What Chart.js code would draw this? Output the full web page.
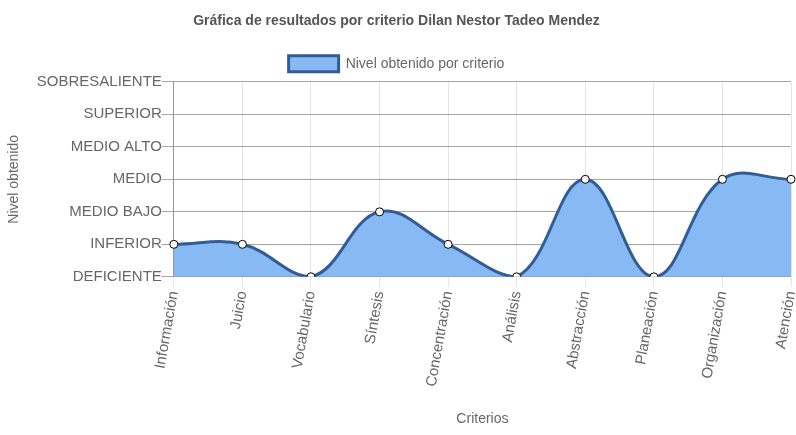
<!DOCTYPE html>
<html>
<head>
<meta charset="utf-8">
<script src="https://cdn.jsdelivr.net/npm/chart.js@4"></script>
<style>
html,body{margin:0;padding:0;background:#fff;}
#wrap{width:796px;height:435px;position:relative;}
</style>
</head>
<body>
<div id="wrap"><canvas id="c" width="796" height="435"></canvas></div>
<script>
const categories = ["Información","Juicio","Vocabulario","Síntesis","Concentración","Análisis","Abstracción","Planeación","Organización","Atención"];
const levelValues = [1,1,0,2,1,0,3,0,3,3];
const levelLabels = ["DEFICIENTE","INFERIOR","MEDIO BAJO","MEDIO","MEDIO ALTO","SUPERIOR","SOBRESALIENTE"];
const seriesName = "Nivel obtenido por criterio";
const chartTitle = "Gráfica de resultados por criterio Dilan Nestor Tadeo Mendez";

Chart.defaults.font.family = "'Liberation Sans', Arial, sans-serif";
Chart.defaults.color = "#666";

new Chart(document.getElementById('c'), {
  type: 'line',
  data: {
    labels: categories,
    datasets: [{
      label: seriesName,
      data: levelValues,
      fill: true,
      backgroundColor: '#87b9f5',
      borderColor: '#325d94',
      borderWidth: 3,
      tension: 0.4,
      pointRadius: 4,
      pointBackgroundColor: '#fff',
      pointBorderColor: '#000',
      pointBorderWidth: 1
    }]
  },
  options: {
    responsive: false,
    animation: false,
    layout: { padding: { left: 2, right: 5, top: 0, bottom: 3 } },
    plugins: {
      title: { display: true, text: chartTitle, font: { size: 14, weight: 'bold' }, color: '#555', padding: { top: 13, bottom: 14 } },
      legend: { labels: { boxWidth: 50, boxHeight: 16, padding: 12, font: { size: 14 }, color: '#666' } },
      tooltip: { enabled: false }
    },
    scales: {
      x: {
        title: { display: true, text: 'Criterios', font: { size: 14 }, color: '#666', padding: { top: 20 } },
        grid: { color: 'rgba(0,0,0,0.1)', tickLength: 10 },
        ticks: { font: { size: 15 }, minRotation: 80, maxRotation: 80, color: '#666' },
        afterFit: (scale) => { scale.paddingRight = 0; }
      },
      y: {
        min: 0, max: 6,
        title: { display: true, text: 'Nivel obtenido', font: { size: 14 }, color: '#666', padding: { top: 4, bottom: 14 } },
        grid: { color: 'rgba(0,0,0,0.35)', tickLength: 12 },
        border: { color: 'rgba(0,0,0,0.35)' },
        ticks: { stepSize: 1, font: { size: 15 }, color: '#666', padding: 0,
          callback: (v) => levelLabels[v] }
      }
    }
  }
});
</script>
</body>
</html>
